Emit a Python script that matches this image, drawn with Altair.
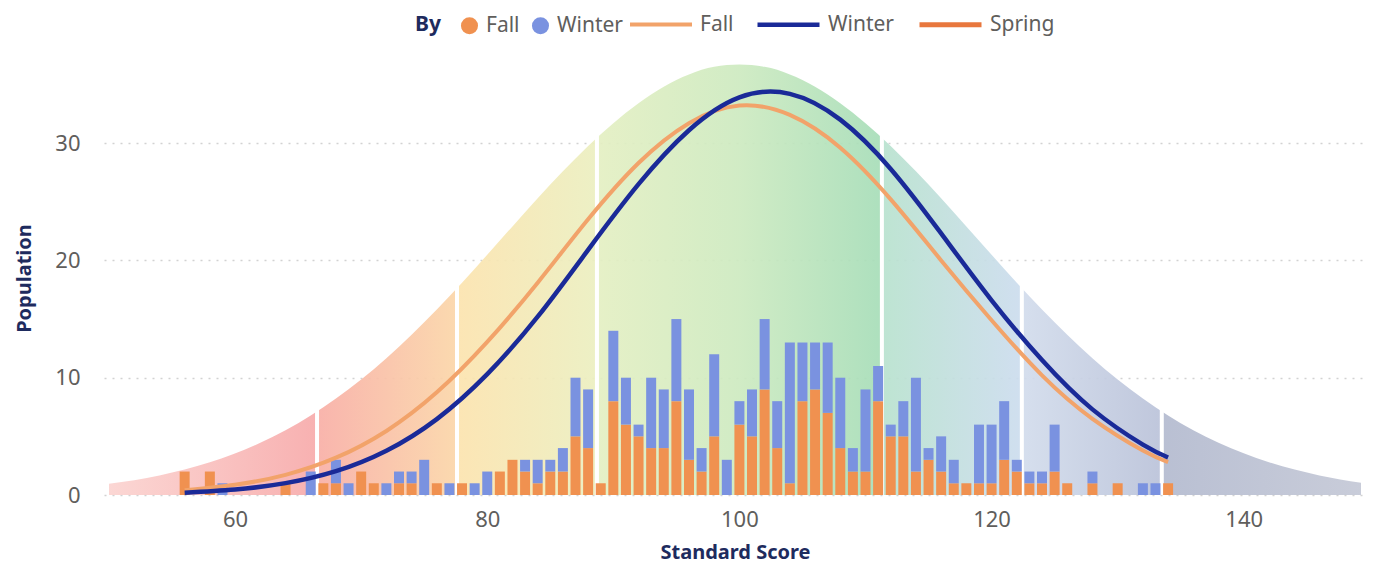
import altair as alt
import pandas as pd

# ---- data ----
scores = [56, 58, 59, 64, 66, 67, 68, 69, 70,
          71, 72, 73, 74, 75, 76, 77, 78, 79, 80,
          81, 82, 83, 84, 85, 86, 87, 88, 89, 90,
          91, 92, 93, 94, 95, 96, 97, 98, 99, 100,
          101, 102, 103, 104, 105, 106, 107, 108, 109, 110,
          111, 112, 113, 114, 115, 116, 117, 118, 119, 120,
          121, 122, 123, 124, 125, 126,
          128, 130, 132, 133, 134]
fall_counts = [2, 2, 0, 1, 0, 1, 1, 0, 2,
               1, 0, 1, 1, 0, 1, 0, 1, 0, 0,
               2, 3, 2, 1, 2, 2, 5, 4, 1, 8,
               6, 5, 4, 4, 8, 3, 2, 5, 0, 6,
               5, 9, 4, 1, 8, 9, 7, 4, 2, 2,
               8, 5, 5, 2, 3, 2, 1, 1, 1, 1,
               3, 2, 1, 1, 2, 1,
               1, 1, 0, 0, 1]
winter_counts = [0, 0, 1, 0, 2, 0, 2, 1, 0,
                 0, 1, 1, 1, 3, 0, 1, 0, 1, 2,
                 0, 0, 1, 2, 1, 2, 5, 5, 0, 6,
                 4, 1, 6, 5, 7, 6, 2, 7, 3, 2,
                 4, 6, 4, 12, 5, 4, 6, 6, 2, 7,
                 3, 1, 3, 8, 1, 3, 2, 0, 5, 5,
                 5, 1, 1, 1, 4, 0,
                 1, 0, 1, 1, 0]

curve_x = [56, 60, 64, 68, 72, 76, 80, 84, 88, 92, 96, 100,
           104, 108, 112, 116, 120, 124, 128, 132, 134]
fall_curve = [0.41, 0.87, 1.72, 3.18, 5.46, 8.75, 13.05, 18.1, 23.5, 28.3, 31.7, 33.2,
              32.4, 29.6, 25.2, 20.0, 14.9, 10.2, 6.5, 3.8, 2.8]
winter_curve = [0.20, 0.47, 1.01, 2.03, 3.77, 6.47, 10.3, 15.2, 20.9, 26.5, 31.1, 33.9,
                34.2, 32.0, 27.8, 22.3, 16.6, 11.5, 7.3, 4.3, 3.2]

bell_x = [50, 54, 58, 62, 66, 70, 74, 78, 82, 86, 90, 94, 98, 100,
          102, 106, 110, 114, 118, 122, 126, 130, 134, 138, 142, 146, 149.3]
bell_y = [0.95, 1.67, 2.79, 4.45, 6.78, 9.85, 13.67, 18.1, 22.9, 27.6, 31.7, 34.8, 36.5, 36.7,
          36.5, 34.8, 31.7, 27.6, 22.9, 18.1, 13.67, 9.85, 6.78, 4.45, 2.79, 1.67, 1.05]

band_edges = [66.5, 77.6, 88.7, 111.3, 122.4, 133.5]
band_tops = [7.4, 18.0, 30.8, 30.8, 18.0, 7.4]

x_domain = [50, 149.3]
y_domain = [0, 37]

TITLE_NAVY = "#1E2B5E"
LABEL_GRAY = "#605E5C"
FONT = "Noto Sans"

# ---- tables ----
bars_rows = []
for s, f, w in zip(scores, fall_counts, winter_counts):
    if f > 0:
        bars_rows.append({"x": s, "y": f, "season": "Fall", "ord": 0})
    if w > 0:
        bars_rows.append({"x": s, "y": w, "season": "Winter", "ord": 1})
bars_df = pd.DataFrame(bars_rows)

curve_rows = []
for xv, fv, wv in zip(curve_x, fall_curve, winter_curve):
    curve_rows.append({"x": xv, "y": fv, "series": "Fall"})
    curve_rows.append({"x": xv, "y": wv, "series": "Winter"})
curve_df = pd.DataFrame(curve_rows)

bell_df = pd.DataFrame({"x": bell_x, "y": bell_y})
edges_df = pd.DataFrame({"x": band_edges, "y": [0] * len(band_edges), "y2": band_tops})

x_scale = alt.Scale(domain=x_domain, nice=False, zero=False)
y_scale = alt.Scale(domain=y_domain, nice=False)

x_axis = alt.Axis(values=[60, 80, 100, 120, 140], title="Standard Score", grid=False,
                  domain=False, ticks=False, labelPadding=14, titlePadding=12)
y_axis = alt.Axis(values=[0, 10, 20, 30], title="Population", grid=True,
                  domain=False, ticks=False, labelPadding=24, titlePadding=20,
                  gridDash=[2, 6], gridColor="#d2d2d2", gridWidth=1.5)

X = alt.X("x:Q", scale=x_scale, axis=x_axis)
Y = alt.Y("y:Q", scale=y_scale, axis=y_axis)


def stop(s, c):
    return alt.GradientStop(offset=(s - x_domain[0]) / (x_domain[1] - x_domain[0]), color=c)


gradient = alt.LinearGradient(
    gradient="linear", x1=0, x2=1, y1=0, y2=0,
    stops=[
        stop(50, "#FBD3D0"),
        stop(66.5, "#F7AAAA"),
        stop(66.5, "#F8AEA6"),
        stop(77.6, "#FBD6A8"),
        stop(77.6, "#FCE3AE"),
        stop(88.7, "#EBEFC0"),
        stop(88.7, "#E4EFC2"),
        stop(100, "#CDEAC0"),
        stop(111.3, "#A6DDB8"),
        stop(111.3, "#B8E2CE"),
        stop(122.4, "#CCDCEE"),
        stop(122.4, "#D2DCEC"),
        stop(133.5, "#BAC2D9"),
        stop(133.5, "#B3BACF"),
        stop(149.3, "#C4C8D6"),
    ],
)

bell = alt.Chart(bell_df).mark_area(
    interpolate="monotone", color=gradient, opacity=0.92
).encode(x=X, y=Y)

edges = alt.Chart(edges_df).mark_rule(color="white", strokeWidth=4).encode(
    x=X, y=Y, y2="y2:Q"
)

bars = alt.Chart(bars_df).mark_bar(size=10).encode(
    x=X,
    y=alt.Y("y:Q", scale=y_scale, axis=y_axis, stack="zero"),
    color=alt.Color(
        "season:N",
        scale=alt.Scale(domain=["Fall", "Winter"], range=["#F09150", "#7A92E0"]),
        legend=alt.Legend(
            title="By", orient="none", legendX=311, legendY=-46, direction="horizontal",
            titleOrient="left", symbolType="circle", symbolSize=290, symbolOpacity=1,
            titleFontSize=21, titleFontWeight="bold", titleColor=TITLE_NAVY, titlePadding=18,
            labelFontSize=21, labelColor=LABEL_GRAY, columnPadding=10, labelOffset=6,
        ),
    ),
    order=alt.Order("ord:Q"),
)

lines = alt.Chart(curve_df).mark_line(interpolate="natural").encode(
    x=X,
    y=Y,
    stroke=alt.Stroke(
        "series:N",
        scale=alt.Scale(domain=["Fall", "Winter", "Spring"],
                        range=["#F2A36A", "#1A2A98", "#E8773D"]),
        legend=alt.Legend(
            title=None, orient="none", legendX=524, legendY=-70, direction="horizontal",
            symbolType="stroke", symbolSize=3844, symbolStrokeWidth=3,
            labelFontSize=21, labelColor=LABEL_GRAY, columnPadding=14, labelOffset=6,
        ),
    ),
    strokeWidth=alt.StrokeWidth(
        "series:N",
        scale=alt.Scale(domain=["Fall", "Winter", "Spring"], range=[4, 5, 4]),
        legend=None,
    ),
)

chart = alt.layer(bell, edges, bars, lines).properties(
    width=1262,
    height=434,
    autosize=alt.AutoSizeParams(type="none"),
    padding={"left": 96, "top": 53, "right": 0, "bottom": 72},
).configure_view(stroke=None).configure_axis(
    labelFont=FONT, titleFont=FONT, labelFontSize=22, titleFontSize=20,
    labelColor=LABEL_GRAY, titleColor=TITLE_NAVY, titleFontWeight="bold",
).configure_legend(labelFont=FONT, titleFont=FONT)

chart.save("out.html", embed_options={"renderer": "svg", "actions": False})
